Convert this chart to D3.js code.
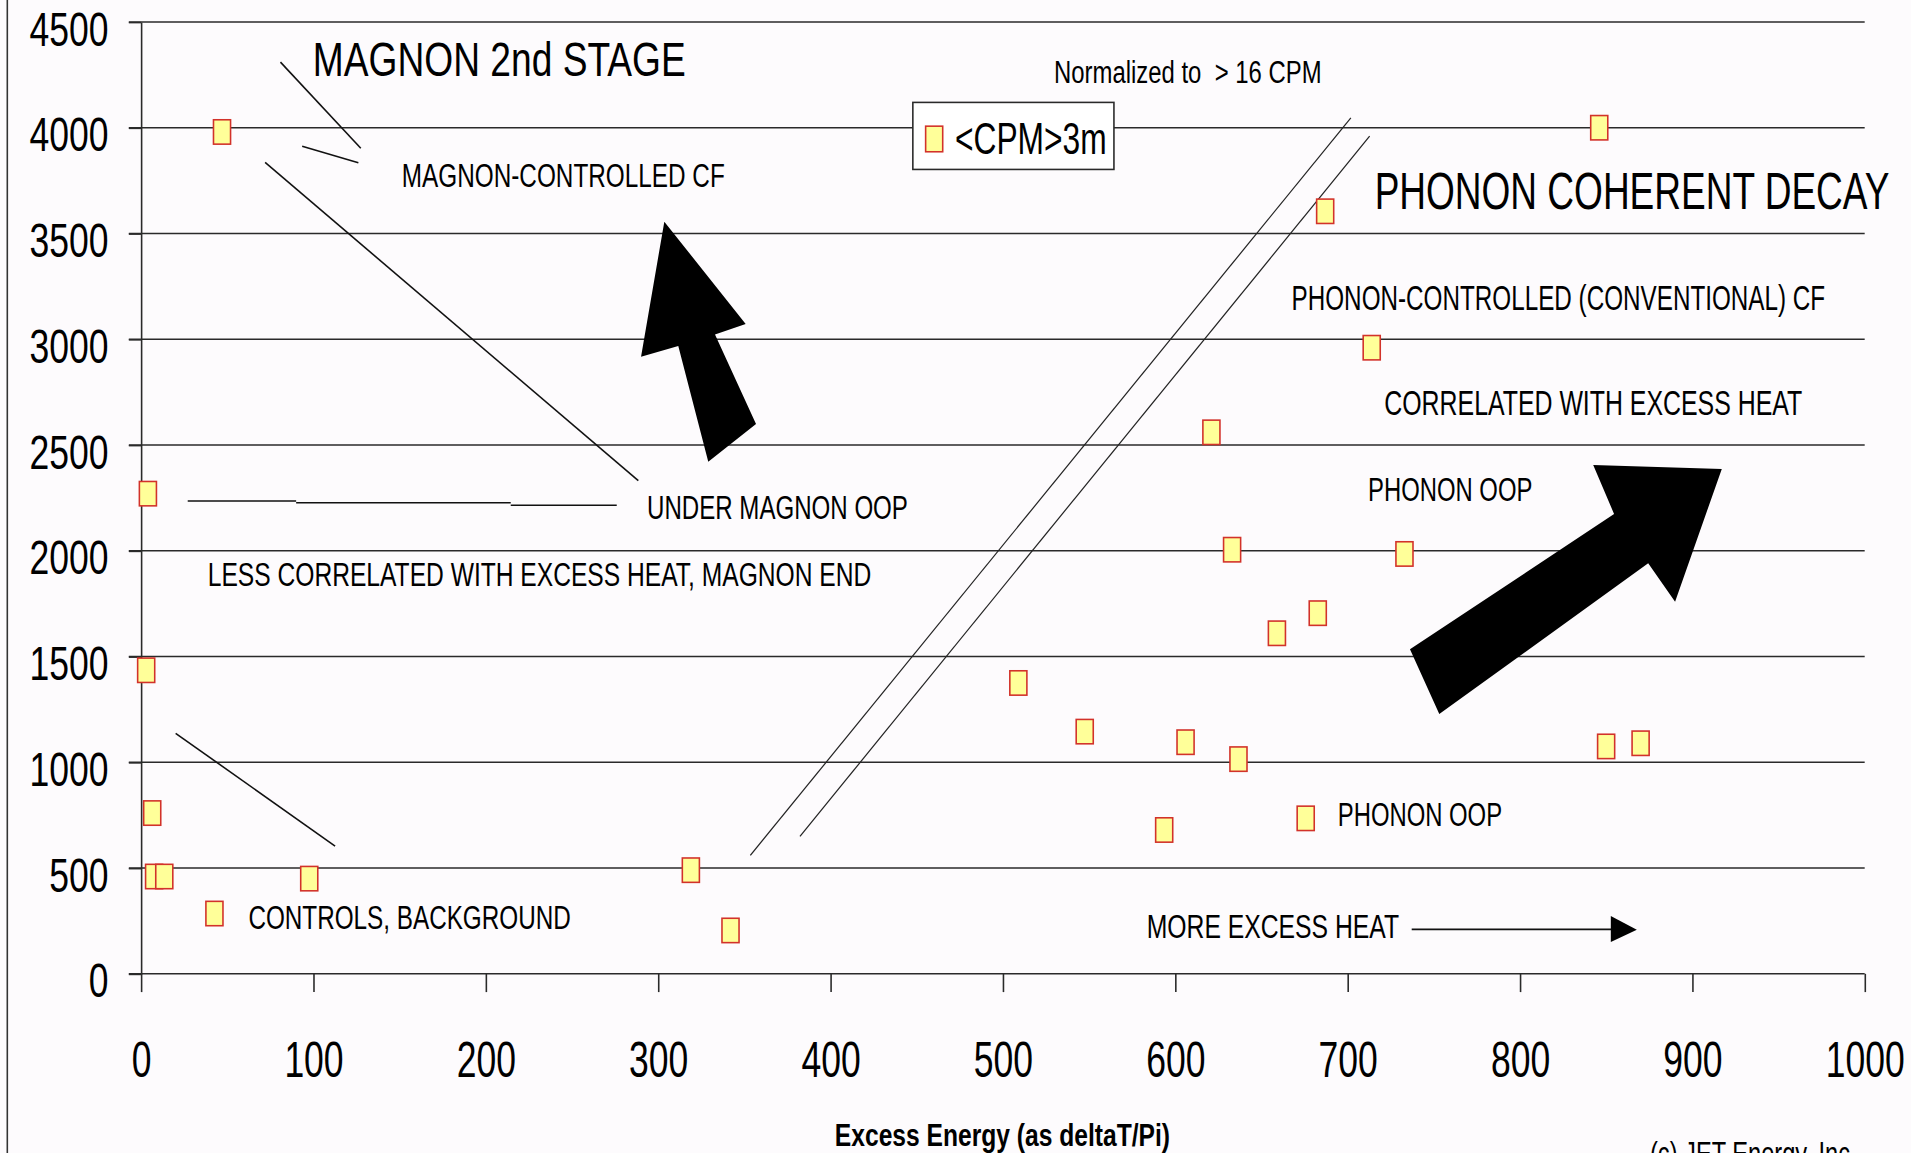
<!DOCTYPE html>
<html>
<head>
<meta charset="utf-8">
<script src="https://cdn.jsdelivr.net/npm/d3@7"></script>
<style>
  html, body { margin: 0; padding: 0; background: #fdfbfd; overflow: hidden; }
  svg { display: block; }
  text { font-family: "Liberation Sans Narrow", "Arial Narrow", "Liberation Sans", Arial, sans-serif; fill: #000; }
</style>
</head>
<body>
<div id="chart"></div>
<script>
// excess energy (x) vs counts (y), one series "<CPM>3m"
const energy = [47, 4, 3, 6.5, 7.6, 13.5, 42.6, 97.6, 319, 342, 509, 547.5, 593.6, 606, 621, 633, 636.7, 659, 675.7, 682.7, 687, 714, 733, 846, 850, 870];
const counts = [3980, 2270, 1435, 760, 460, 460, 285, 450, 490, 205, 1375, 1145, 680, 1095, 2560, 2005, 1015, 1610, 735, 1705, 3605, 2960, 1985, 4000, 1075, 1090];
const xTicks = [0, 100, 200, 300, 400, 500, 600, 700, 800, 900, 1000];
const yTicks = [0, 500, 1000, 1500, 2000, 2500, 3000, 3500, 4000, 4500];
const seriesName = "<CPM>3m";
const xTitle = "Excess Energy (as deltaT/Pi)";
const credit = "(c) JET Energy, Inc.";

const notes = [
  "MAGNON 2nd STAGE",
  "MAGNON-CONTROLLED CF",
  "Normalized to  > 16 CPM",
  "PHONON COHERENT DECAY",
  "PHONON-CONTROLLED (CONVENTIONAL) CF",
  "CORRELATED WITH EXCESS HEAT",
  "PHONON OOP",
  "UNDER MAGNON OOP",
  "LESS CORRELATED WITH EXCESS HEAT, MAGNON END",
  "PHONON OOP",
  "CONTROLS, BACKGROUND",
  "MORE EXCESS HEAT"
];
// where each note sits, in data units, plus its drawn width and size
const noteLayout = [
  {x: 99.7,  y: 4246, w: 306,   fs: 40},
  {x: 151.3, y: 3719, w: 265,   fs: 28},
  {x: 529.7, y: 4210, w: 219.5, fs: 26},
  {x: 715.7, y: 3618, w: 422.4, fs: 42},
  {x: 667.5, y: 3138, w: 437.8, fs: 28.5},
  {x: 721.3, y: 2642, w: 342.9, fs: 28.5},
  {x: 711.9, y: 2237, w: 134.8, fs: 28},
  {x: 293.6, y: 2151, w: 214,   fs: 28},
  {x: 38.7,  y: 1832, w: 544.5, fs: 28},
  {x: 694.3, y: 700,  w: 134.8, fs: 28},
  {x: 62.3,  y: 210,  w: 264.5, fs: 27},
  {x: 583.5, y: 167,  w: 207,   fs: 27}
];

// pointer lines, in data units
const pointerLines = [
  [[80.9, 4310], [127.5, 3903]],
  [[93.5, 3912], [126.1, 3834]],
  [[72.0, 3836], [288.5, 2332]],
  [[27.1, 2235], [90.0, 2235]],
  [[90.0, 2227], [214.5, 2227]],
  [[214.5, 2215], [276, 2215]],
  [[20.1, 1137], [112.6, 604]],
  [[737.2, 210], [856, 210]]
];
const boundaryLines = [
  [[353.5, 560], [701.9, 4047]],
  [[382.3, 650], [712.8, 3960]]
];
const arrowHeads = [
  [[867.8, 208], [852.7, 273], [852.7, 150]]
];
const bigArrows = [
  [[303.6, 3556], [350.8, 3072], [333.0, 3023], [356.8, 2599], [329.1, 2421], [311.7, 2968], [290.1, 2917]],
  [[736.2, 1534], [854.6, 2174], [842.5, 2406], [917.1, 2387], [890, 1759], [874.4, 1941], [753.2, 1228]]
];

const W = 1568, H = 946;
const svg = d3.select("#chart")
  .append("svg")
    .attr("width", 1911)
    .attr("height", 1153)
    .attr("viewBox", `0 0 ${W} ${H}`);

svg.append("rect").attr("width", W).attr("height", H).attr("fill", "#fdfbfd");

// left frame line
svg.append("line")
  .attr("x1", 6).attr("x2", 6).attr("y1", 0).attr("y2", H)
  .attr("stroke", "#333").attr("stroke-width", 1.3);

const x = d3.scaleLinear().domain([0, 1000]).range([115.7, 1530]);
const y = d3.scaleLinear().domain([0, 4500]).range([799, 18]);

const ink = "#2a2a2a";

// horizontal gridlines
svg.append("g")
  .selectAll("line")
  .data(yTicks)
  .join("line")
    .attr("x1", x(0) - 10)
    .attr("x2", x(1000))
    .attr("y1", d => y(d))
    .attr("y2", d => y(d))
    .attr("stroke", ink)
    .attr("stroke-width", 1.3);

const digitW = 16.2;
const fmt = d3.format("d");

const yAxis = svg.append("g")
  .attr("transform", `translate(${x(0)},0)`)
  .call(d3.axisLeft(y).tickValues(yTicks).tickFormat(fmt).tickSize(10).tickSizeOuter(0).tickPadding(16.7));
yAxis.select(".domain").attr("stroke", ink).attr("stroke-width", 1.3);
yAxis.selectAll(".tick line").attr("stroke", ink).attr("stroke-width", 1.3);
yAxis.selectAll(".tick text")
  .attr("font-size", 40)
  .attr("font-family", null)
  .attr("dy", 18.8)
  .attr("textLength", d => fmt(d).length * digitW)
  .attr("lengthAdjust", "spacingAndGlyphs");

const xAxis = svg.append("g")
  .attr("transform", `translate(0,${y(0)})`)
  .call(d3.axisBottom(x).tickValues(xTicks).tickFormat(fmt).tickSize(15).tickSizeOuter(0).tickPadding(40.3));
xAxis.select(".domain").remove();
xAxis.selectAll(".tick line").attr("stroke", ink).attr("stroke-width", 1.3);
xAxis.selectAll(".tick text")
  .attr("font-size", 41)
  .attr("font-family", null)
  .attr("textLength", d => fmt(d).length * digitW)
  .attr("lengthAdjust", "spacingAndGlyphs");

const line = d3.line().x(d => x(d[0])).y(d => y(d[1]));

// annotation lines
svg.append("g")
  .selectAll("path")
  .data(pointerLines)
  .join("path")
    .attr("d", line)
    .attr("fill", "none")
    .attr("stroke", "#111")
    .attr("stroke-width", 1.3);

svg.append("g")
  .selectAll("path")
  .data(boundaryLines)
  .join("path")
    .attr("d", line)
    .attr("fill", "none")
    .attr("stroke", "#222")
    .attr("stroke-width", 1);

svg.append("g")
  .selectAll("path")
  .data(arrowHeads.concat(bigArrows))
  .join("path")
    .attr("d", d => line(d) + "Z")
    .attr("fill", "#000");

// notes
svg.append("g")
  .selectAll("text")
  .data(notes)
  .join("text")
    .attr("x", (d, i) => x(noteLayout[i].x))
    .attr("y", (d, i) => y(noteLayout[i].y))
    .attr("font-size", (d, i) => noteLayout[i].fs)
    .attr("textLength", (d, i) => noteLayout[i].w)
    .attr("lengthAdjust", "spacingAndGlyphs")
    .attr("xml:space", "preserve")
    .text(d => d);

// data points
const points = energy.map((e, i) => ({e, c: counts[i]}));
svg.append("g")
  .selectAll("rect")
  .data(points)
  .join("rect")
    .attr("x", d => x(d.e) - 7)
    .attr("y", d => y(d.c) - 10)
    .attr("width", 14)
    .attr("height", 20)
    .attr("fill", "#ffff99")
    .attr("stroke", "#d2322a")
    .attr("stroke-width", 1.3);

// legend
const legend = svg.append("g").attr("transform", "translate(749,84)");
legend.append("rect")
  .attr("width", 165).attr("height", 55)
  .attr("fill", "#ffffff").attr("stroke", ink).attr("stroke-width", 1.3);
legend.append("rect")
  .attr("x", 10.5).attr("y", 19.5).attr("width", 14).attr("height", 21)
  .attr("fill", "#ffff99").attr("stroke", "#d2322a").attr("stroke-width", 1.3);
legend.append("text")
  .attr("x", 34.6).attr("y", 42.4)
  .attr("font-size", 37)
  .attr("textLength", 124.4)
  .attr("lengthAdjust", "spacingAndGlyphs")
  .text(seriesName);

// axis title and credit
svg.append("text")
  .attr("x", 685).attr("y", 940)
  .attr("font-size", 26)
  .attr("font-weight", "bold")
  .attr("textLength", 275)
  .attr("lengthAdjust", "spacingAndGlyphs")
  .text(xTitle);

svg.append("text")
  .attr("x", 1353.8).attr("y", 955.5)
  .attr("font-size", 27)
  .attr("textLength", 169.6)
  .attr("lengthAdjust", "spacingAndGlyphs")
  .text(credit);
</script>
</body>
</html>
